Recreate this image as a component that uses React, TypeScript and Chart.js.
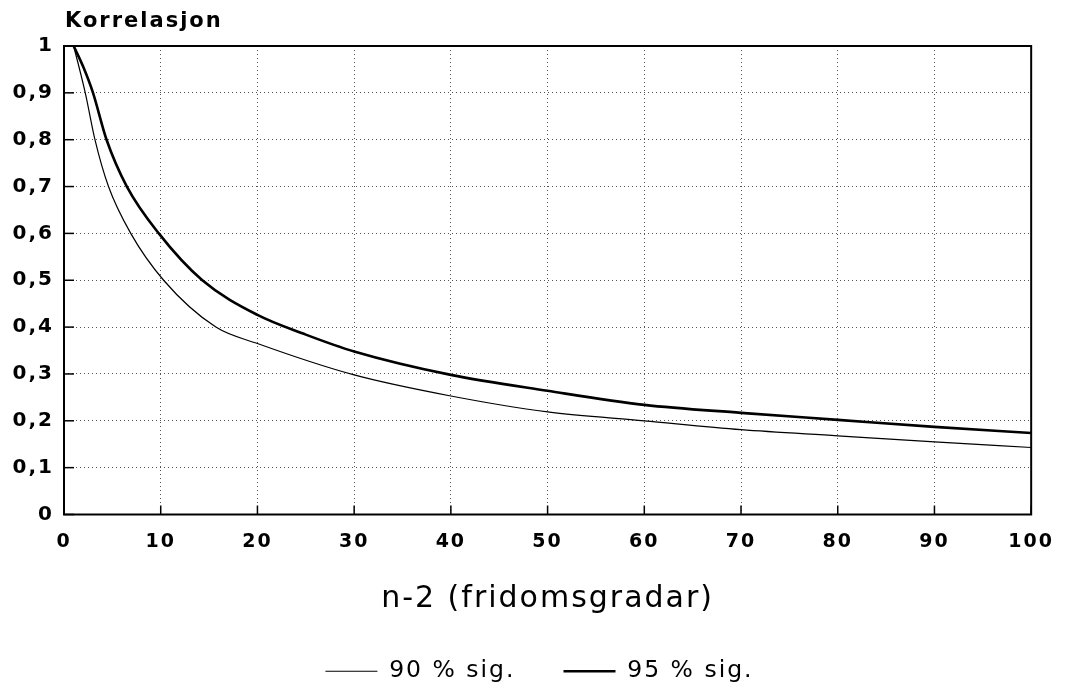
import React, { useEffect, useRef } from "react";
import { Chart, registerables } from "chart.js";

Chart.register(...registerables);

// Degrees of freedom (n-2) and critical correlation
const DF_90 = [1, 2.2, 3.2, 4.6, 6.9, 10.3, 15.7, 20, 30, 40, 50, 60, 70, 80, 90, 100];
const R_90 = [1.0, 0.9, 0.8, 0.7, 0.6, 0.5, 0.4, 0.365, 0.298, 0.253, 0.219, 0.2, 0.181, 0.168, 0.155, 0.143];

const DF_95 = [1, 2, 3.0, 4.4, 6.5, 9.8, 14.3, 20, 25, 30, 40, 50, 60, 70, 80, 90, 100];
const R_95 = [1.0, 0.955, 0.9, 0.8, 0.7, 0.6, 0.5, 0.426, 0.384, 0.348, 0.298, 0.264, 0.234, 0.217, 0.202, 0.187, 0.174];

const SERIES_LABELS = ["90 % sig.", "95 % sig."];
const Y_TITLE = "Korrelasjon";
const X_TITLE = "n-2 (fridomsgradar)";
const X_MIN = 0;
const X_MAX = 100;
const X_STEP = 10;
const Y_MIN = 0;
const Y_MAX = 1;
const Y_STEP = 0.1;

const FONT = "'DejaVu Sans', 'Liberation Sans', sans-serif";

const fmtY = (v: number) => {
  if (Math.abs(v) < 1e-9) return "0";
  if (Math.abs(v - 1) < 1e-9) return "1";
  return v.toFixed(1).replace(".", ",");
};

const spacingPlugin = {
  id: "letterSpacing",
  beforeUpdate(chart: any) {
    chart.ctx.letterSpacing = "2px";
  },
  beforeLayout(chart: any) {
    chart.ctx.letterSpacing = "2px";
  },
  afterLayout(chart: any) {
    // centre the legend under the drawing as in the reference
    if (chart.legend) {
      chart.legend.left += 18;
      chart.legend.right += 18;
    }
  },
  beforeDraw(chart: any) {
    chart.ctx.letterSpacing = "2px";
  },
};

const framePlugin = {
  id: "frame",
  afterDraw(chart: any) {
    const { ctx, chartArea } = chart;
    const { left, right, top, bottom } = chartArea;
    ctx.save();
    ctx.strokeStyle = "#000";
    ctx.lineWidth = 2;
    ctx.setLineDash([]);
    ctx.strokeRect(left, top, right - left, bottom - top);
    // short inward tick marks
    ctx.lineWidth = 1.5;
    const ys = chart.scales.y;
    ys.ticks.forEach((t: any) => {
      const py = ys.getPixelForValue(t.value);
      ctx.beginPath();
      ctx.moveTo(left, py);
      ctx.lineTo(left + 10, py);
      ctx.stroke();
    });
    const xs = chart.scales.x;
    xs.ticks.forEach((t: any) => {
      const px = xs.getPixelForValue(t.value);
      ctx.beginPath();
      ctx.moveTo(px, bottom);
      ctx.lineTo(px, bottom - 9);
      ctx.stroke();
    });
    // axis title at top-left
    ctx.fillStyle = "#000";
    ctx.font = `bold 21px ${FONT}`;
    (ctx as any).letterSpacing = "2px";
    ctx.textAlign = "left";
    ctx.textBaseline = "middle";
    ctx.fillText(Y_TITLE, left + 1, 22);
    ctx.restore();
  },
};

export default function App() {
  const ref = useRef<HTMLCanvasElement | null>(null);

  useEffect(() => {
    if (!ref.current) return;
    const chart = new Chart(ref.current, {
      type: "line",
      data: {
        datasets: [
          {
            label: SERIES_LABELS[0],
            data: DF_90.map((x, i) => ({ x, y: R_90[i] })),
            borderColor: "#000",
            backgroundColor: "#000",
            borderWidth: 1.2,
            pointRadius: 0,
            cubicInterpolationMode: "monotone",
            fill: false,
          },
          {
            label: SERIES_LABELS[1],
            data: DF_95.map((x, i) => ({ x, y: R_95[i] })),
            borderColor: "#000",
            backgroundColor: "#000",
            borderWidth: 2.6,
            pointRadius: 0,
            cubicInterpolationMode: "monotone",
            fill: false,
          },
        ],
      },
      options: {
        animation: false,
        responsive: false,
        layout: { padding: { left: 0, right: 27, top: 46, bottom: -1 } },
        plugins: {
          tooltip: { enabled: false },
          title: { display: false },
          legend: {
            display: true,
            position: "bottom",
            labels: {
              usePointStyle: true,
              pointStyle: "line",
              pointStyleWidth: 52,
              boxHeight: 20,
              color: "#000",
              padding: 48,
              font: { family: FONT, size: 23.5 },
            },
          },
        },
        scales: {
          x: {
            type: "linear",
            min: X_MIN,
            max: X_MAX,
            ticks: {
              stepSize: X_STEP,
              color: "#000",
              padding: 16,
              maxRotation: 0,
              font: { family: FONT, size: 19, weight: "bold" },
            },
            grid: { color: "#555", lineWidth: 1, drawTicks: false },
            border: { display: false, dash: [1, 3] },
            title: {
              display: true,
              text: X_TITLE,
              color: "#000",
              font: { family: FONT, size: 30 },
              padding: { top: 0, bottom: -6 },
            },
            afterFit: (scale: any) => {
              scale.height = 97;
            },
          },
          y: {
            type: "linear",
            min: Y_MIN,
            max: Y_MAX,
            ticks: {
              stepSize: Y_STEP,
              color: "#000",
              padding: 10,
              callback: (v: any) => fmtY(Number(v)),
              font: { family: FONT, size: 20, weight: "bold" },
            },
            grid: { color: "#555", lineWidth: 1, drawTicks: false },
            border: { display: false, dash: [1, 3] },
            afterFit: (scale: any) => {
              scale.width = 64;
            },
          },
        },
      },
      plugins: [spacingPlugin, framePlugin],
    });
    return () => chart.destroy();
  }, []);

  return (
    <div style={{ position: "absolute", left: 0, top: 0, width: 1070, height: 692, background: "#fff" }}>
      <canvas ref={ref} width={1070} height={692} style={{ display: "block" }} />
    </div>
  );
}
